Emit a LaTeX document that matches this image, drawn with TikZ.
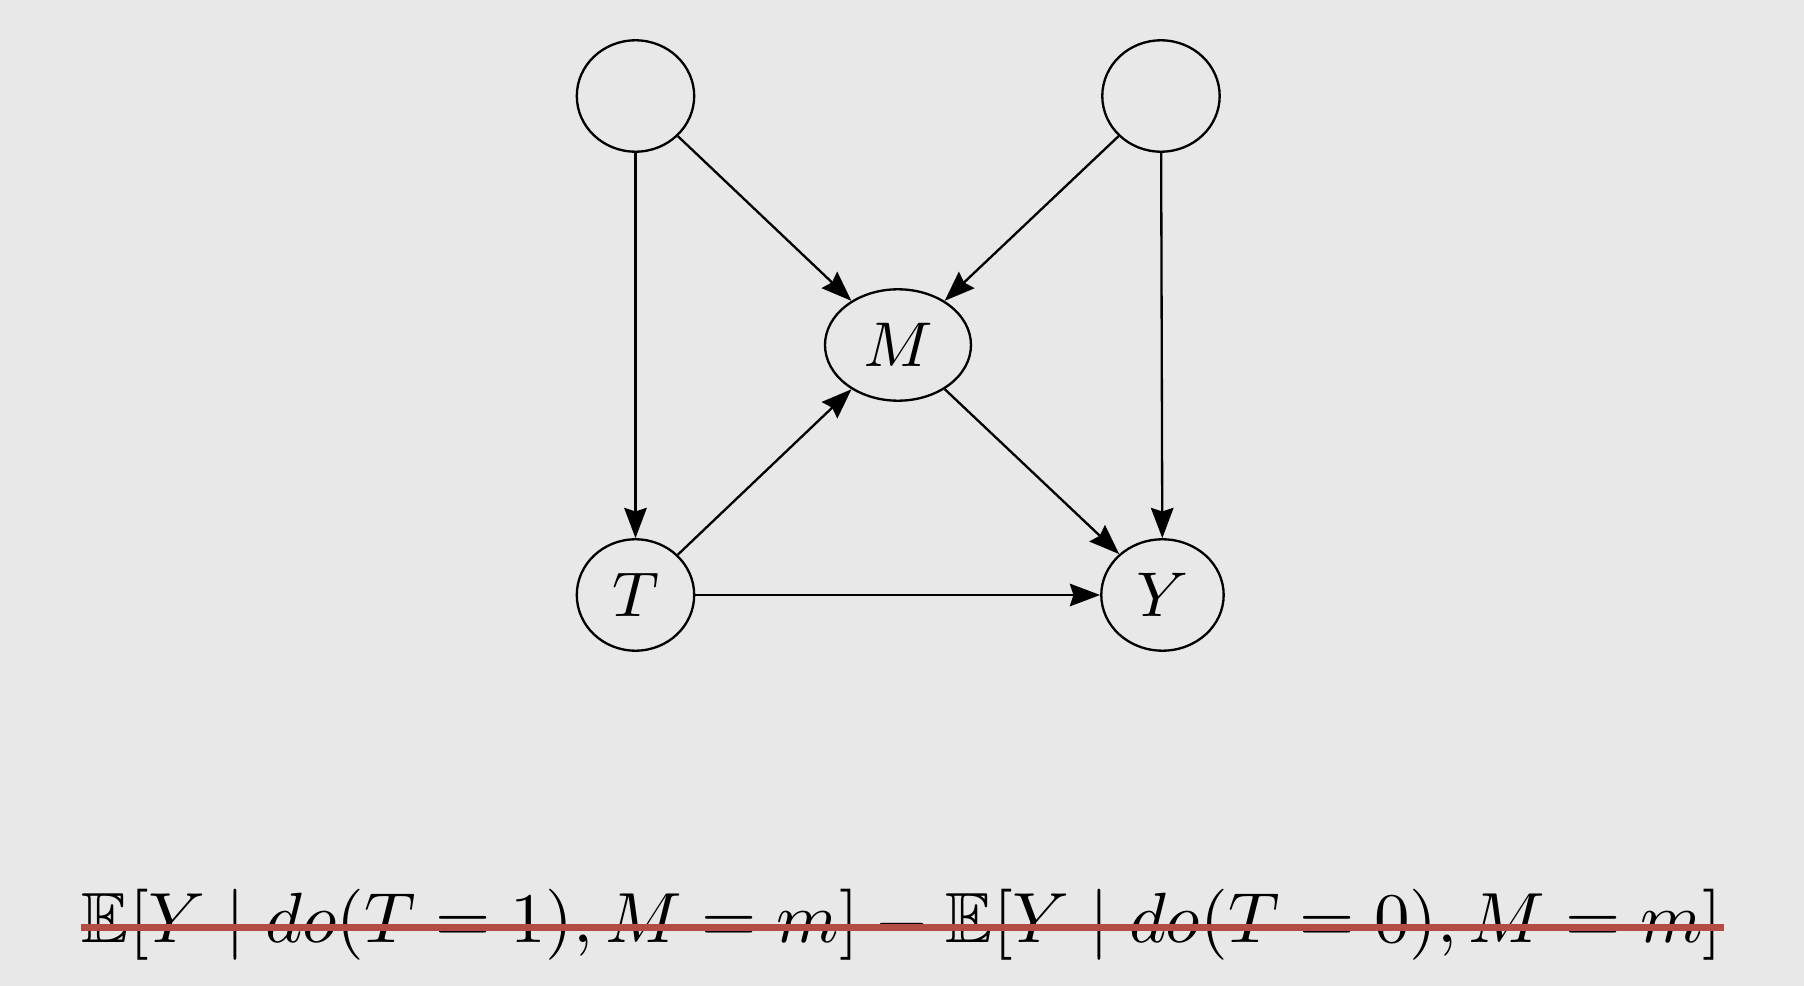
\documentclass[tikz,border=0pt]{standalone}
\usepackage{amssymb}
\usetikzlibrary{shapes.geometric,arrows.meta}
\definecolor{bggray}{RGB}{232,232,232}
\definecolor{strikered}{RGB}{180,76,69}
\begin{document}
\begin{tikzpicture}[line width=0.33pt,
    var/.style={draw,ellipse,inner sep=0pt,minimum width=0.587cm,minimum height=0.557cm,font=\fontsize{9}{11}\selectfont},
    >={Stealth[length=4.3pt,width=3.2pt,inset=0.5pt]}]
    \fill [bggray] (0,0) rectangle (9.02,4.93);
    \useasboundingbox (0,0) rectangle (9.02,4.93);
    \node [var] (u1) at (3.1775,4.45) {};
    \node [var] (u2) at (5.805,4.45) {};
    \node [var,minimum width=0.73cm] (m) at (4.49,3.205) {$M$};
    \node [var] (t) at (3.1775,1.955) {$T$};
    \node [var,minimum width=0.612cm] (y) at (5.8125,1.955) {$Y$};
    \draw [->] (u1) -- (t);
    \draw [->] (u1) -- (m);
    \draw [->] (u2) -- (m);
    \draw [->] (u2) -- (y);
    \draw [->] (t) -- (m);
    \draw [->] (m) -- (y);
    \draw [->] (t) -- (y);
    \node [anchor=base west,inner sep=0pt,scale=1.011] (eq) at (0.4035,0.215) {$\mathbb{E}[Y \mid do(T=1), M=m] - \mathbb{E}[Y \mid do(T=0), M=m]$};
    \draw [strikered,line width=0.032cm] ([yshift=-0.012cm]eq.west) -- ([yshift=-0.012cm]eq.east);
\end{tikzpicture}
\end{document}
